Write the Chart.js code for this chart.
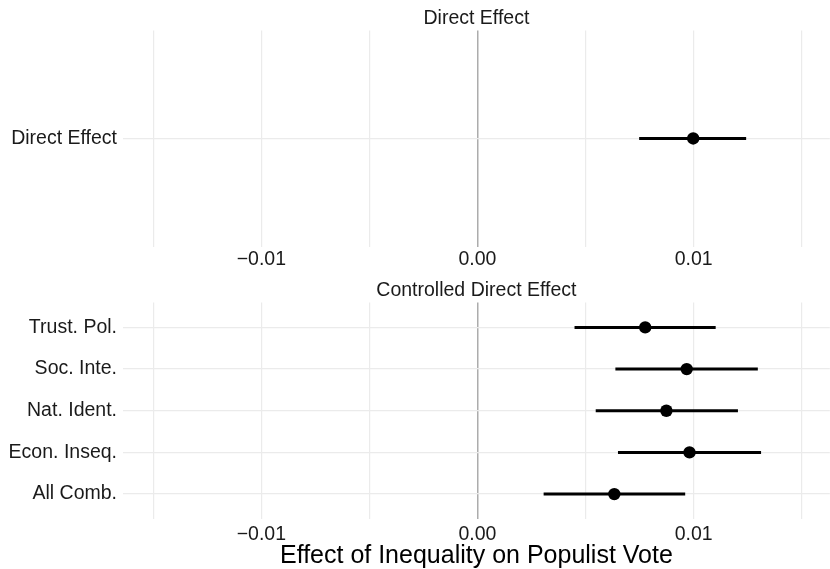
<!DOCTYPE html>
<html>
<head>
<meta charset="utf-8">
<script src="https://cdn.jsdelivr.net/npm/chart.js@4"></script>
<style>
    html, body { margin: 0; padding: 0; background: #ffffff; }
    #wrap { position: relative; width: 830px; height: 569px; overflow: hidden; }
    #wrap canvas { position: absolute; left: 0; }
    #top { top: 0; }
    #bottom { top: 272px; }
</style>
</head>
<body>
<div id="wrap">
    <canvas id="top" width="836" height="272"></canvas>
    <canvas id="bottom" width="836" height="297"></canvas>
</div>
<script>
// Panel 1: direct effect
const directLabels = ["Direct Effect"];
const directEst = [0.00998];
const directLo = [0.00748];
const directHi = [0.01243];

// Panel 2: controlled direct effects
const cdeLabels = ["Trust. Pol.", "Soc. Inte.", "Nat. Ident.", "Econ. Inseq.", "All Comb."];
const cdeEst = [0.00776, 0.00968, 0.00874, 0.00981, 0.00633];
const cdeLo = [0.00449, 0.00638, 0.00547, 0.00650, 0.00306];
const cdeHi = [0.01102, 0.01297, 0.01205, 0.01312, 0.00961];

// x axis: breaks every 0.005, labels only on the major ones
const xBreaks = [-0.015, -0.01, -0.005, 0, 0.005, 0.01, 0.015];
const xTickLabels = { "-0.01": "\u22120.01", "0": "0.00", "0.01": "0.01" };
const xTitle = "Effect of Inequality on Populist Vote";

Chart.defaults.font.family = '"Liberation Sans", Arial, Helvetica, sans-serif';
Chart.defaults.color = "#1a1a1a";

function buildPanel(canvasId, title, labels, est, lo, hi, opts) {
    const n = labels.length;
    const barSets = labels.map((_, i) => ({
        type: "scatter",
        data: [{ x: lo[i], y: i }, { x: hi[i], y: i }],
        showLine: true,
        borderColor: "#000000",
        borderWidth: 3,
        pointRadius: 0,
        order: 1
    }));
    const pointSet = {
        type: "scatter",
        data: est.map((v, i) => ({ x: v, y: i })),
        backgroundColor: "#000000",
        borderWidth: 0,
        pointRadius: 6.2,
        order: 0
    };

    return new Chart(document.getElementById(canvasId), {
        type: "scatter",
        data: { datasets: [pointSet, ...barSets] },
        options: {
            responsive: false,
            animation: false,
            events: [],
            layout: { padding: { left: 0, right: 0, top: 0, bottom: opts.padBottom } },
            plugins: {
                legend: { display: false },
                tooltip: { enabled: false },
                title: {
                    display: true,
                    text: title,
                    fullSize: false,
                    color: "#1a1a1a",
                    font: { size: 19.5, weight: "normal", lineHeight: 1.2 },
                    padding: { top: 7, bottom: 0 }
                }
            },
            scales: {
                x: {
                    type: "linear",
                    min: -0.0164,
                    max: 0.0163,
                    afterBuildTicks: (scale) => {
                        scale.ticks = xBreaks.map((v) => ({ value: v }));
                    },
                    ticks: {
                        autoSkip: false,
                        maxRotation: 0,
                        padding: opts.tickPad,
                        font: { size: 19.5, lineHeight: 1 },
                        color: "#1a1a1a",
                        callback: (value) => xTickLabels[String(Math.round(value * 1000) / 1000)] || ""
                    },
                    grid: {
                        drawTicks: false,
                        color: (ctx) => (ctx.tick && ctx.tick.value === 0 ? "#acacac" : "#ebebeb"),
                        lineWidth: (ctx) => (ctx.tick && ctx.tick.value === 0 ? 1.5 : 1.2)
                    },
                    border: { display: false },
                    title: {
                        display: opts.showXTitle,
                        text: xTitle,
                        color: "#000000",
                        font: { size: 25, lineHeight: 1 },
                        padding: { top: -5.2, bottom: 0 }
                    }
                },
                y: {
                    type: "linear",
                    reverse: true,
                    min: -0.6,
                    max: n - 1 + 0.6,
                    afterBuildTicks: (scale) => {
                        scale.ticks = labels.map((_, i) => ({ value: i }));
                    },
                    afterFit: (scale) => {
                        scale.width = 123;
                    },
                    ticks: {
                        autoSkip: false,
                        padding: 6,
                        font: { size: 19.5, lineHeight: 1 },
                        color: "#1a1a1a",
                        callback: (value) => labels[value]
                    },
                    grid: {
                        drawTicks: false,
                        color: "#ebebeb",
                        lineWidth: 1.2
                    },
                    border: { display: false }
                }
            }
        }
    });
}

buildPanel("top", "Direct Effect", directLabels, directEst, directLo, directHi,
    { padBottom: 0, tickPad: 3, showXTitle: false });
buildPanel("bottom", "Controlled Direct Effect", cdeLabels, cdeEst, cdeLo, cdeHi,
    { padBottom: 0, tickPad: 5.3, showXTitle: true });
</script>
</body>
</html>
